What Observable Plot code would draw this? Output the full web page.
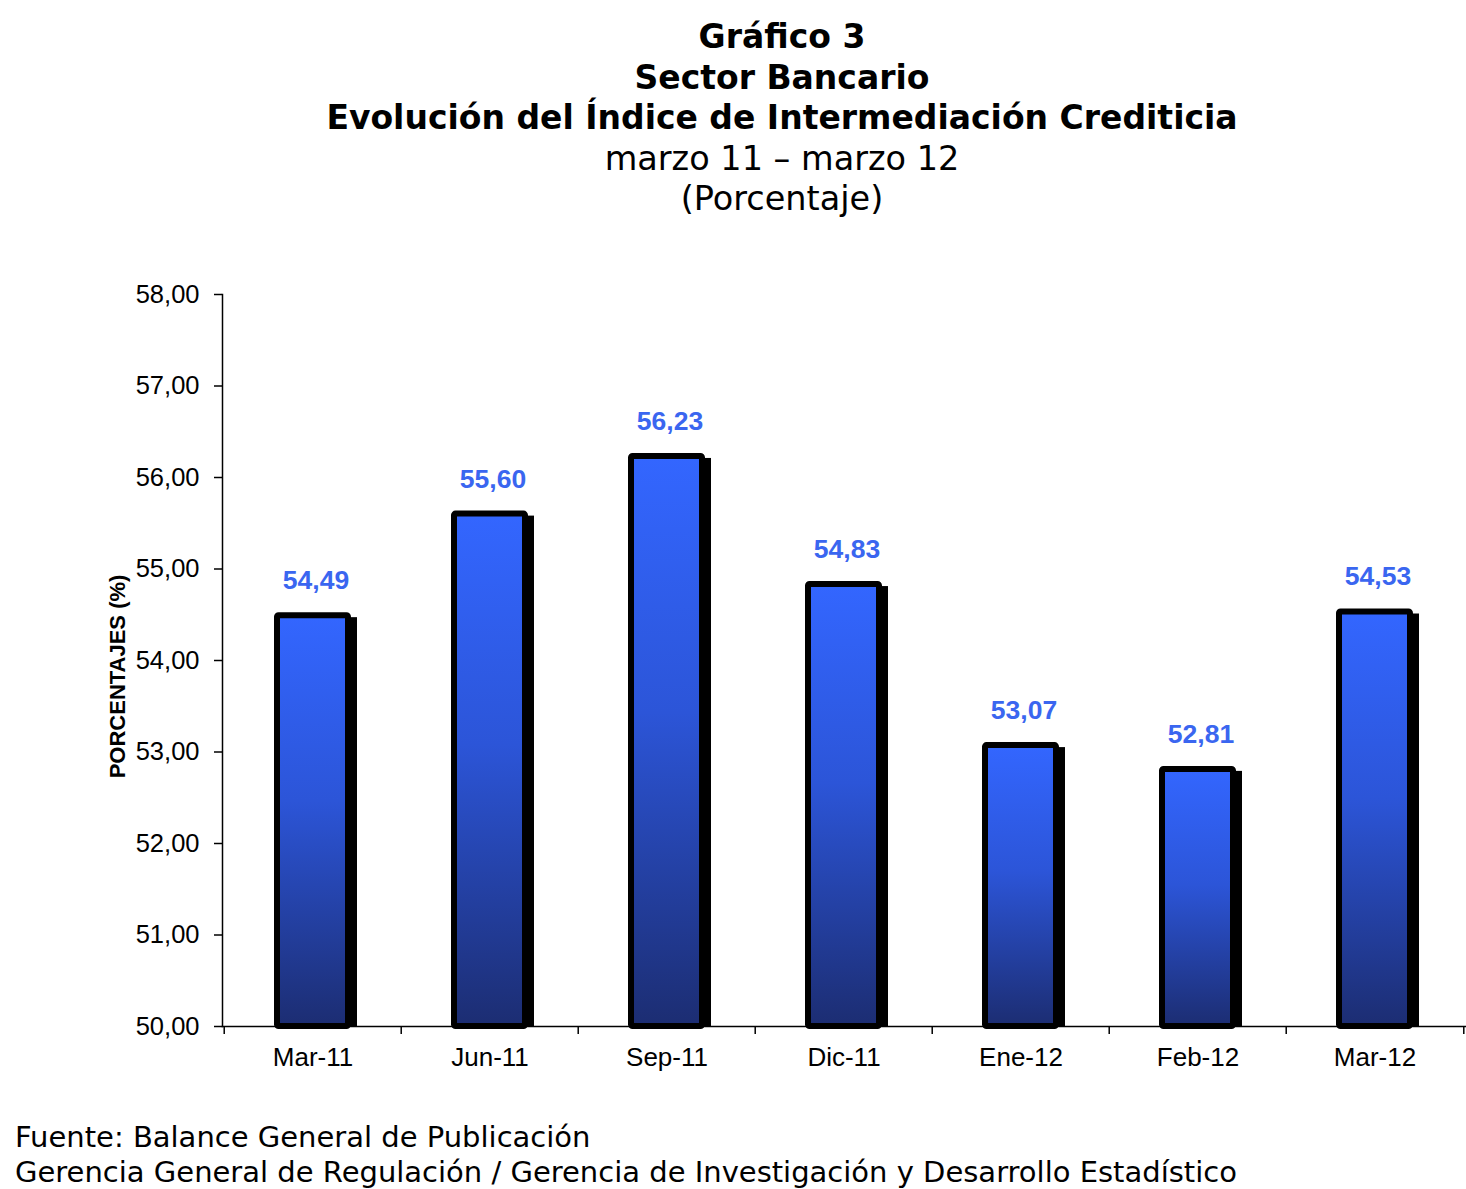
<!DOCTYPE html>
<html><head><meta charset="utf-8">
<script src="https://cdn.jsdelivr.net/npm/d3@7"></script>
<script src="https://cdn.jsdelivr.net/npm/@observablehq/plot@0.6"></script>
<style>
html,body{margin:0;padding:0;background:#fff;}
body{width:1466px;height:1189px;position:relative;overflow:hidden;font-family:"DejaVu Sans",Verdana,sans-serif;color:#000;}
#title{position:absolute;left:0;top:17px;width:1564px;text-align:center;line-height:40.5px;white-space:nowrap;}
#title .b{font-weight:bold;font-size:33px;}
#title .n{font-weight:normal;font-size:33.5px;}
#chart{position:absolute;left:0;top:250px;}
#foot{position:absolute;left:15px;top:1120px;line-height:35px;font-size:29px;white-space:nowrap;}
</style></head><body>
<div id="title">
<div class="b">Gráfico 3</div>
<div class="b">Sector Bancario</div>
<div class="b">Evolución del Índice de Intermediación Crediticia</div>
<div class="n">marzo 11 – marzo 12</div>
<div class="n">(Porcentaje)</div>
</div>
<div id="chart"></div>
<div id="foot">
<div>Fuente: Balance General de Publicación</div>
<div>Gerencia General de Regulación / Gerencia de Investigación y Desarrollo Estadístico</div>
</div>
<script>
const categories = ["Mar-11","Jun-11","Sep-11","Dic-11","Ene-12","Feb-12","Mar-12"];
const values = [54.49, 55.60, 56.23, 54.83, 53.07, 52.81, 54.53];
const yTicks = [50, 51, 52, 53, 54, 55, 56, 57, 58];
const yTitle = "PORCENTAJES (%)";

const data = categories.map((c, i) => ({cat: c, value: values[i]}));
const fmt = v => v.toFixed(2).replace(".", ",");
const W = 1466, H = 850, mL = 222, mR = 1;
const step = (W - mL - mR) / categories.length;

const plot = Plot.plot({
  width: W, height: H,
  marginTop: 44, marginBottom: 74, marginLeft: mL, marginRight: mR,
  style: {fontFamily: "'Liberation Sans', Arial, sans-serif", fontSize: "25px", color: "#000", background: "transparent", overflow: "visible"},
  x: {domain: categories, paddingInner: 0.6, paddingOuter: 0.3, label: null},
  y: {domain: [50, 58], label: null},
  marks: [
    Plot.rectY(data, {x: "cat", y1: 50, y2: "value", dx: 6, dy: 5, fill: "#000", stroke: "#000", strokeWidth: 6, clip: true, inset: 0}),
    Plot.rectY(data, {x: "cat", y1: 50, y2: "value", fill: "url(#barGrad)", stroke: "#000", strokeWidth: 6, inset: 0, rx: 1.5}),
    Plot.frame({anchor: "left", stroke: "#000", strokeWidth: 1.5}),
    Plot.frame({anchor: "bottom", stroke: "#000", strokeWidth: 1.5}),
    Plot.axisY({ticks: yTicks, tickSize: 8, tickPadding: 15, tickFormat: fmt, fontSize: 25.5, strokeWidth: 1.5, label: null}),
    Plot.axisX({tickSize: 0, tickPadding: 21, fontSize: 26, label: null}),
    Plot.axisX({tickSize: 8, tickFormat: () => "", dx: -step / 2, strokeWidth: 1.5, label: null}),
    Plot.axisX({ticks: [categories[categories.length - 1]], tickSize: 8, tickFormat: () => "", dx: step / 2, strokeWidth: 1.5, label: null}),
    Plot.text(data, {x: "cat", y: "value", text: d => fmt(d.value), dy: -35, dx: 3, fill: "#3a66f0", fontWeight: "bold", fontSize: 26.5}),
    Plot.text([yTitle], {text: d => d, frameAnchor: "left", textAnchor: "middle", dx: -105, dy: 16, rotate: -90, fontWeight: "bold", fontSize: 22})
  ]
});

const svg = d3.select(plot);
const defs = svg.insert("defs", ":first-child");
const grad = defs.append("linearGradient").attr("id", "barGrad").attr("x1", 0).attr("y1", 0).attr("x2", 0).attr("y2", 1);
grad.append("stop").attr("offset", "0").attr("stop-color", "#3366ff");
grad.append("stop").attr("offset", "0.45").attr("stop-color", "#2c55d8");
grad.append("stop").attr("offset", "1").attr("stop-color", "#1c2d72");
document.getElementById("chart").appendChild(plot);
</script>
</body></html>
